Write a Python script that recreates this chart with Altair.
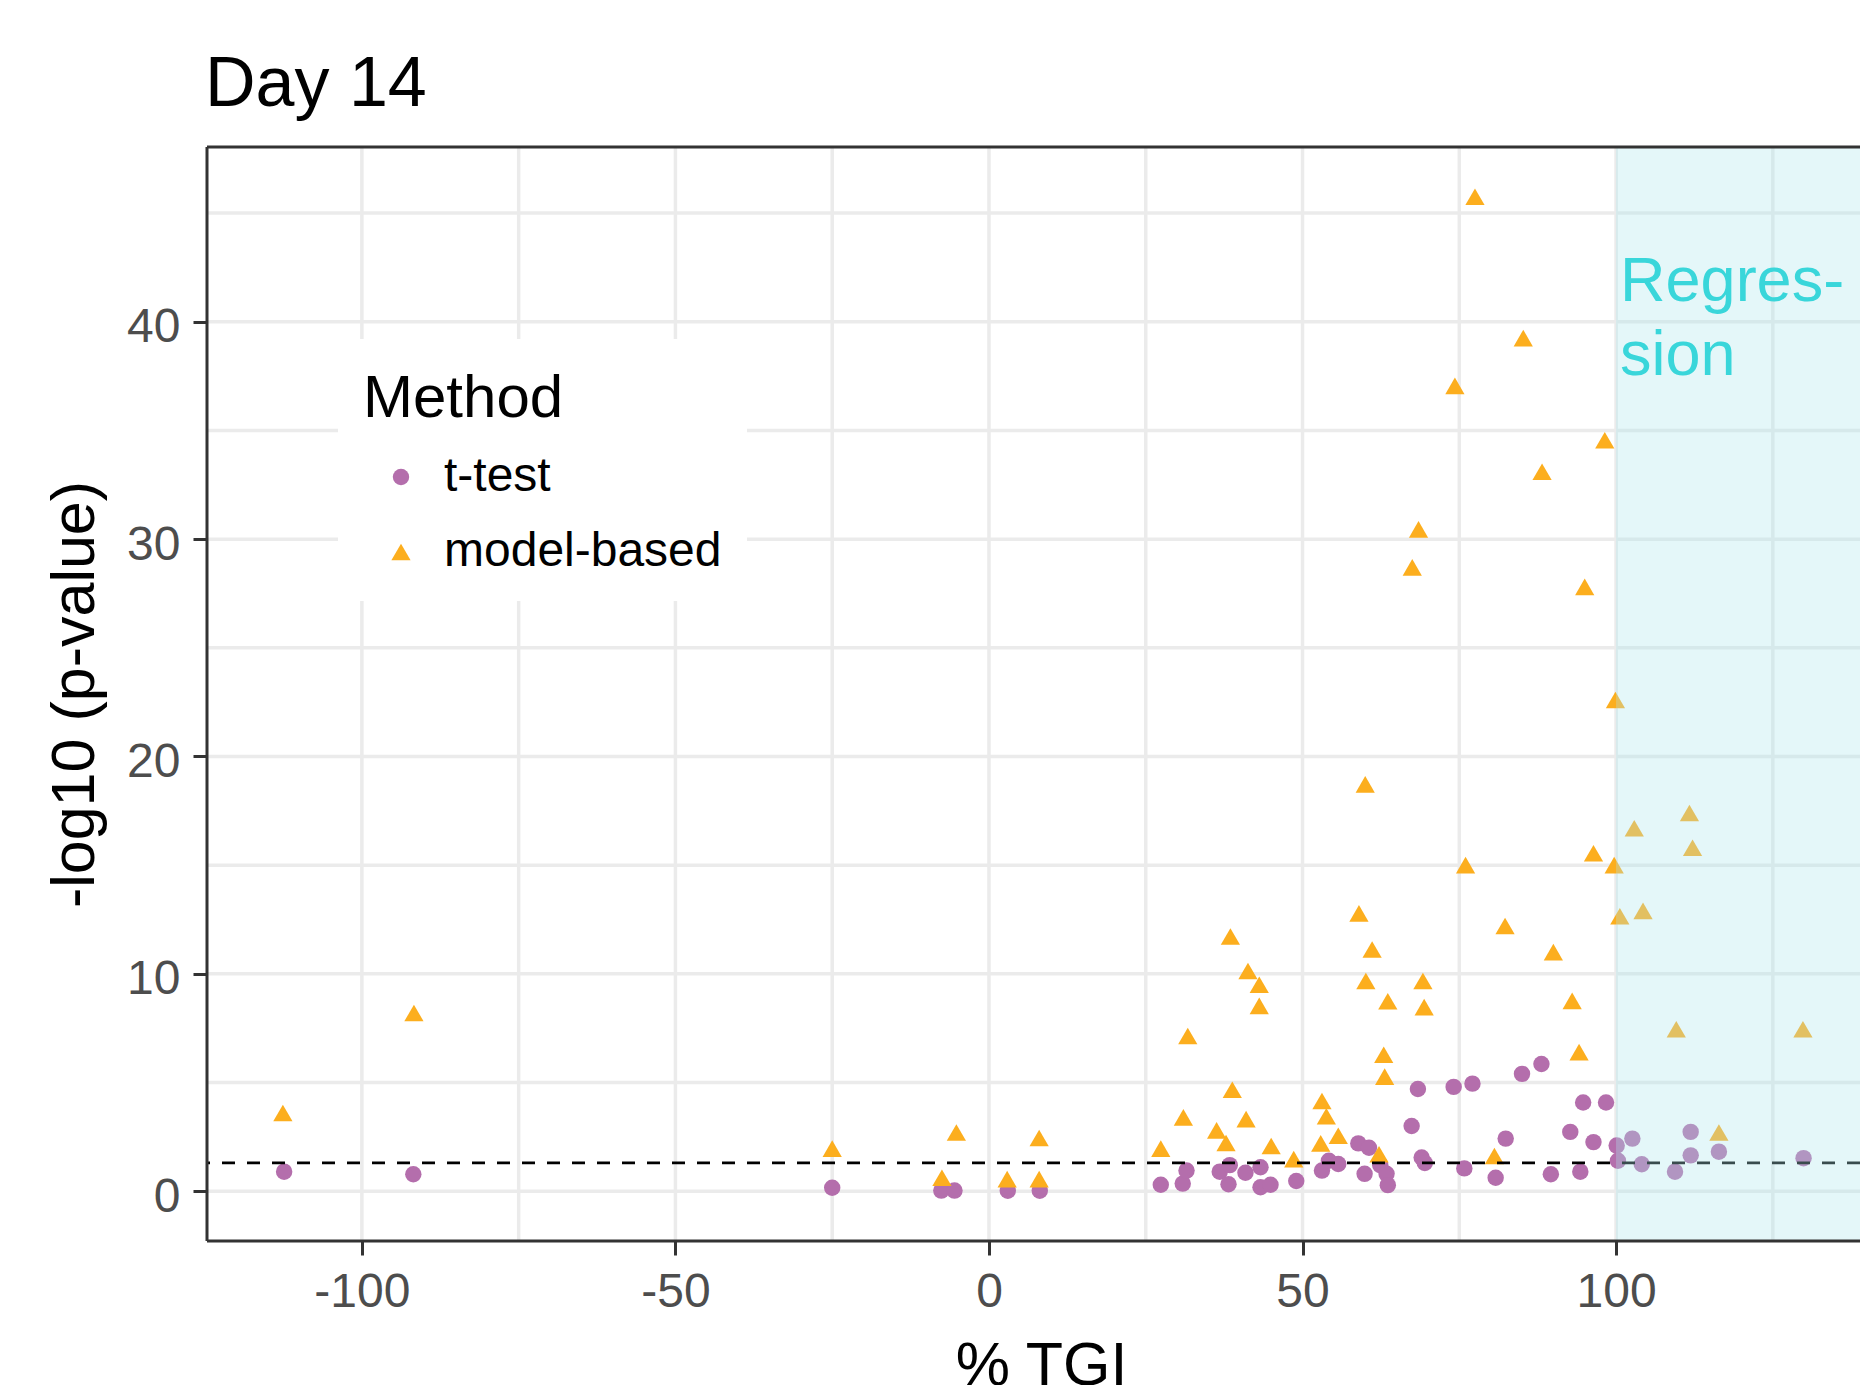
import altair as alt
import pandas as pd

# ---- data ----
ttest_tgi = [-112.4, -91.8, -25.0, -7.6, -5.5, 3.0, 8.1, 27.4, 30.9, 31.5, 36.8, 38.4, 38.2,
             40.9, 43.3, 43.3, 44.9, 49.0, 53.1, 54.2, 55.7, 58.9, 60.6, 59.9, 62.4, 63.4,
             63.6, 67.4, 68.4, 69.0, 69.5, 74.1, 77.1, 75.8, 80.8, 82.4, 85.0, 88.1, 89.6,
             92.7, 94.3, 94.75, 96.4, 98.4, 100.1, 100.3, 102.6, 104.1, 109.4, 111.9, 111.9,
             116.4, 129.9]
ttest_logp = [0.9, 0.78, 0.16, 0.03, 0.03, 0.02, 0.02, 0.30, 0.35, 0.95, 0.9, 1.2, 0.32,
              0.85, 1.1, 0.18, 0.3, 0.47, 0.95, 1.4, 1.25, 2.2, 2.0, 0.8, 1.2, 0.8,
              0.28, 3.0, 4.7, 1.55, 1.3, 4.8, 4.95, 1.05, 0.62, 2.42, 5.4, 5.85, 0.78,
              2.73, 0.9, 4.08, 2.26, 4.08, 2.1, 1.4, 2.42, 1.24, 0.9, 2.73, 1.65,
              1.82, 1.52]

model_tgi = [-112.6, -91.7, -25.0, -7.5, -5.2, 2.9, 8.0, 8.0, 27.4, 31.0, 31.7, 36.3, 37.8,
             38.5, 38.8, 41.0, 41.3, 43.1, 43.1, 45.0, 48.6, 52.9, 53.1, 53.8, 55.7, 59.0,
             60.0, 60.1, 61.1, 62.2, 62.95, 63.1, 63.6, 67.5, 68.5, 69.2, 69.4, 74.3, 76.0,
             77.5, 80.6, 82.3, 85.2, 88.2, 90.0, 93.0, 94.1, 95.0, 96.4, 98.2, 99.9, 99.7,
             100.6, 102.9, 104.3, 109.6, 111.7, 112.2, 116.4, 129.8]
model_logp = [3.6, 8.2, 1.96, 0.62, 2.7, 0.56, 2.45, 0.56, 1.96, 3.4, 7.14, 2.8, 2.22,
              11.72, 4.67, 3.32, 10.13, 9.5, 8.53, 2.08, 1.48, 2.2, 4.15, 3.45, 2.55, 12.78,
              18.72, 9.67, 11.12, 1.7, 6.28, 5.27, 8.74, 28.7, 30.45, 9.67, 8.47, 37.05, 15.0,
              45.75, 1.62, 12.2, 39.25, 33.1, 11.0, 8.76, 6.4, 27.8, 15.55, 34.55, 22.6, 15.0,
              12.65, 16.7, 12.9, 7.45, 17.4, 15.8, 2.7, 7.45]

methods = ["t-test", "model-based"]
method_colors = ["#B46EAC", "#FCAE1E"]
method_shapes = ["circle", "triangle-up"]
method_sizes = [270, 370]

x_ticks = [-100, -50, 0, 50, 100]
y_ticks = [0, 10, 20, 30, 40]
x_grid = [-100, -75, -50, -25, 0, 25, 50, 75, 100, 125]
y_grid = [0, 5, 10, 15, 20, 25, 30, 35, 40, 45]
x_domain = [-124.7, 138.9]
y_domain = [-2.29, 48.04]
threshold = [1.30103]          # -log10(0.05)
region_start = [100]
region_label = ["Regres-\nsion"]
region_label_y = [40.94]

FONT = "Liberation Sans"
W, H = 1653, 1094

points = pd.DataFrame({
    "tgi": ttest_tgi + model_tgi,
    "logp": ttest_logp + model_logp,
    "Method": [methods[0]] * len(ttest_tgi) + [methods[1]] * len(model_tgi),
})
gx = pd.DataFrame({"tgi": x_grid})
gy = pd.DataFrame({"logp": y_grid})
thr = pd.DataFrame({"logp": threshold})
region = pd.DataFrame({"tgi": region_start, "tgi2": [x_domain[1]],
                       "logp": [y_domain[0]], "logp2": [y_domain[1]]})
label_df = pd.DataFrame({"tgi": region_start, "logp": region_label_y, "txt": region_label})
hborder = pd.DataFrame({"logp": [y_domain[0], y_domain[1]]})
vborder = pd.DataFrame({"tgi": [x_domain[0]]})

xscale = alt.Scale(domain=x_domain, nice=False, zero=False)
yscale = alt.Scale(domain=y_domain, nice=False, zero=False)

xaxis = alt.Axis(values=x_ticks, grid=False, domain=False, ticks=True, tickSize=14,
                 tickWidth=3, tickColor="#333333", labelFontSize=48, labelColor="#4D4D4D",
                 labelFont=FONT, labelPadding=13, labelExpr="'' + datum.value",
                 labelFlush=False, labelOverlap=False,
                 title="% TGI", titleFontSize=61, titleFont=FONT, titleColor="black",
                 titleFontWeight="normal", titleX=834, titleY=143,
                 titleBaseline="alphabetic", titleAlign="center")
yaxis = alt.Axis(values=y_ticks, grid=False, domain=False, ticks=True, tickSize=14,
                 tickWidth=3, tickColor="#333333", labelFontSize=48, labelColor="#4D4D4D",
                 labelFont=FONT, labelPadding=13, labelOffset=6,
                 labelFlush=False, labelOverlap=False,
                 title="-log10 (p-value)", titleFontSize=61, titleFont=FONT,
                 titleColor="black", titleFontWeight="normal", titleAngle=270,
                 titleX=-114, titleY=547, titleBaseline="alphabetic", titleAlign="center")


def X(field="tgi"):
    return alt.X(f"{field}:Q", scale=xscale, axis=xaxis)


def Y(field="logp"):
    return alt.Y(f"{field}:Q", scale=yscale, axis=yaxis)


legend = alt.Legend(title="Method", orient="none", legendX=131, legendY=192,
                    fillColor="white", padding=25, titleFontSize=60, titleFont=FONT,
                    titleColor="black", titleFontWeight="normal", titleLimit=800,
                    titleBaseline="line-top", titleLineHeight=72, titlePadding=29,
                    labelFontSize=48, labelFont=FONT, labelColor="black", labelLimit=800,
                    symbolOffset=14, labelOffset=19, rowPadding=27,
                    symbolStrokeWidth=0)

grid_x = alt.Chart(gx).mark_rule(color="#EBEBEB", strokeWidth=3.5).encode(x=X())
grid_y = alt.Chart(gy).mark_rule(color="#EBEBEB", strokeWidth=3.5).encode(y=Y())

pts = alt.Chart(points).mark_point(filled=True, opacity=1).encode(
    x=X(), y=Y(),
    color=alt.Color("Method:N", scale=alt.Scale(domain=methods, range=method_colors),
                    legend=legend, sort=methods),
    shape=alt.Shape("Method:N", scale=alt.Scale(domain=methods, range=method_shapes),
                    legend=legend, sort=methods),
    size=alt.Size("Method:N", scale=alt.Scale(domain=methods, range=method_sizes),
                  legend=legend, sort=methods),
)

hline = alt.Chart(thr).mark_rule(color="black", strokeWidth=2.7,
                                  strokeDash=[13, 12]).encode(y=Y())

txt = alt.Chart(label_df).mark_text(
    align="left", baseline="alphabetic", lineBreak="\n", fontSize=63, lineHeight=74,
    font=FONT, color="darkturquoise", dx=4
).encode(x=X(), y=Y(), text="txt:N")

shade = alt.Chart(region).mark_rect(color="#ADE7ED", opacity=0.33).encode(
    x=X(), x2="tgi2", y=Y(), y2="logp2")

border_h = alt.Chart(hborder).mark_rule(color="#333333", strokeWidth=3).encode(y=Y())
border_v = alt.Chart(vborder).mark_rule(color="#333333", strokeWidth=3).encode(x=X())

chart = alt.layer(grid_x, grid_y, pts, hline, txt, shade, border_h, border_v).properties(
    width=W, height=H,
    title=alt.Title("Day 14", anchor="start", frame="group", fontSize=70, font=FONT,
                    fontWeight="normal", color="black", baseline="alphabetic",
                    offset=42, dx=-2, dy=73),
    autosize=alt.AutoSizeParams(type="none"),
    padding={"left": 207, "top": 147, "right": 0, "bottom": 144},
).configure_view(stroke=None).configure(background="white")

chart.save("out.html", embed_options={"renderer": "svg", "actions": False})
